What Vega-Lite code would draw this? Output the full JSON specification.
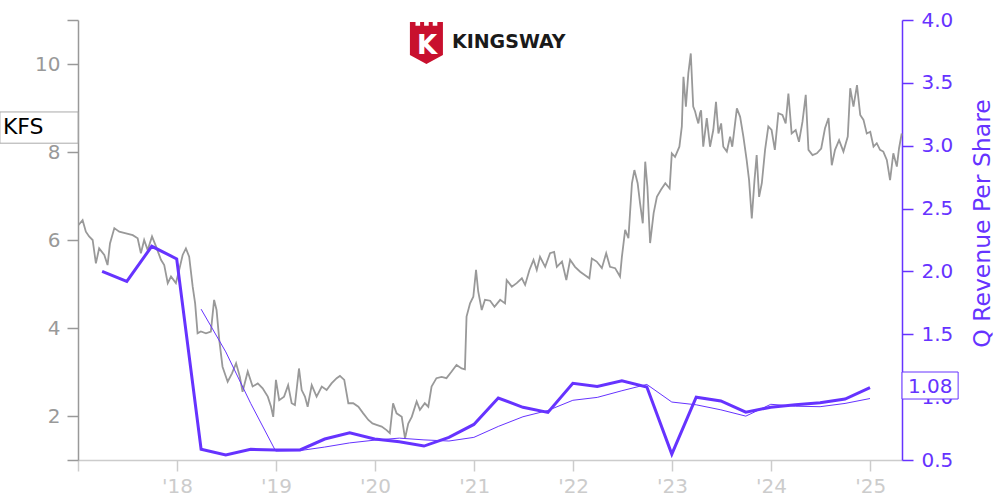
{
  "$schema": "https://vega.github.io/schema/vega-lite/v6.json",
  "width": 824,
  "height": 440,
  "autosize": {"type": "none"},
  "padding": {"left": 78, "top": 20, "right": 98, "bottom": 40},
  "background": "white",
  "config": {
    "font": "DejaVu Sans",
    "view": {"stroke": null},
    "axisLeft": {"domainColor": "#999999", "tickColor": "#999999", "labelColor": "#999999", "labelFontSize": 20, "tickSize": 11, "labelPadding": 7, "domainWidth": 1.5, "tickWidth": 1.5, "grid": false, "labelFont": "DejaVu Sans"},
    "axisRight": {"domainColor": "#6633ff", "tickColor": "#6633ff", "labelColor": "#6633ff", "titleColor": "#6633ff", "labelFontSize": 20, "titleFontSize": 23.5, "titleFontWeight": "normal", "tickSize": 11, "labelPadding": 8, "domainWidth": 1.5, "tickWidth": 1.5, "grid": false, "titleAngle": 270, "titleBaseline": "top", "titlePadding": 18, "labelFont": "DejaVu Sans", "titleFont": "DejaVu Sans"},
    "axisBottom": {"domainColor": "#cccccc", "tickColor": "#cccccc", "labelColor": "#cccccc", "labelFontSize": 20, "tickSize": 11, "labelPadding": 5, "domainWidth": 1.5, "tickWidth": 1.5, "grid": false, "labelFont": "DejaVu Sans"}
  },
  "datasets": {
    "price": [
      {"d":"2017-01-03","p":6.34},{"d":"2017-01-18","p":6.45},{"d":"2017-01-30","p":6.19},{"d":"2017-02-11","p":6.08},{"d":"2017-02-24","p":6.00},{"d":"2017-03-08","p":5.47},{"d":"2017-03-20","p":5.81},{"d":"2017-04-08","p":5.66},{"d":"2017-04-20","p":5.43},{"d":"2017-04-29","p":5.92},{"d":"2017-05-15","p":6.27},{"d":"2017-06-02","p":6.19},{"d":"2017-06-27","p":6.15},{"d":"2017-07-22","p":6.11},{"d":"2017-08-09","p":6.04},{"d":"2017-08-21","p":5.70},{"d":"2017-09-02","p":6.00},{"d":"2017-09-15","p":5.77},{"d":"2017-10-01","p":6.08},{"d":"2017-10-16","p":5.85},{"d":"2017-11-03","p":5.55},{"d":"2017-11-15","p":5.43},{"d":"2017-11-28","p":5.02},{"d":"2017-12-10","p":5.17},{"d":"2017-12-28","p":5.02},
      {"d":"2018-01-09","p":5.32},{"d":"2018-01-22","p":5.66},{"d":"2018-02-03","p":5.81},{"d":"2018-02-15","p":5.62},{"d":"2018-02-28","p":4.94},{"d":"2018-03-09","p":4.56},{"d":"2018-03-18","p":3.88},{"d":"2018-03-30","p":3.92},{"d":"2018-04-18","p":3.88},{"d":"2018-05-06","p":3.92},{"d":"2018-05-18","p":4.64},{"d":"2018-05-27","p":4.41},{"d":"2018-06-06","p":3.73},{"d":"2018-06-18","p":3.12},{"d":"2018-07-07","p":2.78},{"d":"2018-07-23","p":2.97},{"d":"2018-08-07","p":3.20},{"d":"2018-08-21","p":2.89},{"d":"2018-08-31","p":2.55},{"d":"2018-09-19","p":3.01},{"d":"2018-10-07","p":2.67},{"d":"2018-10-26","p":2.74},{"d":"2018-11-13","p":2.63},{"d":"2018-12-02","p":2.44},{"d":"2018-12-14","p":2.21},{"d":"2018-12-22","p":1.98},
      {"d":"2019-01-01","p":2.82},{"d":"2019-01-13","p":2.36},{"d":"2019-01-31","p":2.44},{"d":"2019-02-15","p":2.70},{"d":"2019-02-28","p":2.29},{"d":"2019-03-12","p":2.25},{"d":"2019-03-27","p":3.08},{"d":"2019-04-06","p":2.59},{"d":"2019-04-18","p":2.44},{"d":"2019-04-28","p":2.21},{"d":"2019-05-13","p":2.70},{"d":"2019-05-31","p":2.44},{"d":"2019-06-19","p":2.67},{"d":"2019-07-07","p":2.59},{"d":"2019-07-25","p":2.74},{"d":"2019-08-13","p":2.86},{"d":"2019-08-25","p":2.91},{"d":"2019-09-10","p":2.82},{"d":"2019-09-25","p":2.29},{"d":"2019-10-13","p":2.29},{"d":"2019-11-01","p":2.21},{"d":"2019-11-19","p":2.06},{"d":"2019-12-08","p":1.91},{"d":"2019-12-23","p":1.83},
      {"d":"2020-01-07","p":1.80},{"d":"2020-01-26","p":1.76},{"d":"2020-02-13","p":1.68},{"d":"2020-02-25","p":1.61},{"d":"2020-03-08","p":2.29},{"d":"2020-03-21","p":2.06},{"d":"2020-04-09","p":1.98},{"d":"2020-04-21","p":1.49},{"d":"2020-05-03","p":1.83},{"d":"2020-05-16","p":1.98},{"d":"2020-06-03","p":2.33},{"d":"2020-06-15","p":2.14},{"d":"2020-07-03","p":2.29},{"d":"2020-07-16","p":2.21},{"d":"2020-07-28","p":2.67},{"d":"2020-08-15","p":2.86},{"d":"2020-09-03","p":2.89},{"d":"2020-09-21","p":2.86},{"d":"2020-10-10","p":3.01},{"d":"2020-10-28","p":3.16},{"d":"2020-11-16","p":3.08},{"d":"2020-11-28","p":3.06},{"d":"2020-12-04","p":4.26},{"d":"2020-12-17","p":4.56},{"d":"2020-12-29","p":4.71},
      {"d":"2021-01-08","p":5.32},{"d":"2021-01-16","p":4.83},{"d":"2021-01-29","p":4.41},{"d":"2021-02-10","p":4.64},{"d":"2021-03-01","p":4.62},{"d":"2021-03-17","p":4.48},{"d":"2021-04-07","p":4.64},{"d":"2021-04-25","p":4.56},{"d":"2021-05-01","p":5.09},{"d":"2021-05-20","p":4.94},{"d":"2021-06-07","p":5.02},{"d":"2021-06-26","p":5.13},{"d":"2021-07-08","p":4.98},{"d":"2021-07-24","p":5.32},{"d":"2021-08-08","p":5.55},{"d":"2021-08-20","p":5.32},{"d":"2021-09-01","p":5.62},{"d":"2021-09-20","p":5.39},{"d":"2021-10-08","p":5.70},{"d":"2021-10-23","p":5.73},{"d":"2021-11-02","p":5.39},{"d":"2021-11-21","p":5.51},{"d":"2021-12-07","p":5.09},{"d":"2021-12-21","p":5.55},
      {"d":"2022-01-08","p":5.39},{"d":"2022-01-27","p":5.28},{"d":"2022-02-14","p":5.20},{"d":"2022-03-02","p":5.13},{"d":"2022-03-11","p":5.58},{"d":"2022-03-29","p":5.51},{"d":"2022-04-17","p":5.36},{"d":"2022-05-03","p":5.70},{"d":"2022-05-17","p":5.39},{"d":"2022-06-05","p":5.36},{"d":"2022-06-23","p":5.17},{"d":"2022-06-30","p":5.62},{"d":"2022-07-12","p":6.23},{"d":"2022-07-24","p":6.04},{"d":"2022-08-06","p":7.29},{"d":"2022-08-15","p":7.59},{"d":"2022-08-27","p":7.29},{"d":"2022-09-05","p":6.83},{"d":"2022-09-15","p":6.38},{"d":"2022-09-24","p":7.78},{"d":"2022-10-02","p":7.21},{"d":"2022-10-12","p":5.93},{"d":"2022-10-25","p":6.61},{"d":"2022-11-06","p":6.98},{"d":"2022-11-21","p":7.14},{"d":"2022-12-07","p":7.29},{"d":"2022-12-23","p":7.17},{"d":"2022-12-31","p":7.97},
      {"d":"2023-01-12","p":7.89},{"d":"2023-01-28","p":8.12},{"d":"2023-02-06","p":8.58},{"d":"2023-02-12","p":9.71},{"d":"2023-02-21","p":9.03},{"d":"2023-03-02","p":9.79},{"d":"2023-03-11","p":10.24},{"d":"2023-03-20","p":9.03},{"d":"2023-03-27","p":8.92},{"d":"2023-04-02","p":8.77},{"d":"2023-04-08","p":8.65},{"d":"2023-04-14","p":8.88},{"d":"2023-04-18","p":8.95},{"d":"2023-04-26","p":8.12},{"d":"2023-05-09","p":8.77},{"d":"2023-05-21","p":8.12},{"d":"2023-06-02","p":8.50},{"d":"2023-06-12","p":9.14},{"d":"2023-06-21","p":8.42},{"d":"2023-07-01","p":8.65},{"d":"2023-07-09","p":8.12},{"d":"2023-07-22","p":8.01},{"d":"2023-08-03","p":8.35},{"d":"2023-08-11","p":8.12},{"d":"2023-08-28","p":8.99},{"d":"2023-09-09","p":8.80},{"d":"2023-09-21","p":8.35},{"d":"2023-10-03","p":7.82},{"d":"2023-10-12","p":7.36},{"d":"2023-10-22","p":6.49},{"d":"2023-11-01","p":7.36},{"d":"2023-11-09","p":7.93},{"d":"2023-11-18","p":6.98},{"d":"2023-11-28","p":7.29},{"d":"2023-12-10","p":8.05},{"d":"2023-12-22","p":8.58},
      {"d":"2024-01-03","p":8.50},{"d":"2024-01-15","p":8.05},{"d":"2024-01-28","p":8.88},{"d":"2024-02-12","p":8.84},{"d":"2024-02-24","p":8.65},{"d":"2024-03-05","p":9.33},{"d":"2024-03-17","p":8.42},{"d":"2024-04-01","p":8.50},{"d":"2024-04-13","p":8.23},{"d":"2024-04-26","p":8.69},{"d":"2024-05-08","p":9.30},{"d":"2024-05-18","p":8.05},{"d":"2024-06-02","p":7.93},{"d":"2024-06-18","p":7.97},{"d":"2024-07-04","p":8.08},{"d":"2024-07-18","p":8.54},{"d":"2024-07-31","p":8.77},{"d":"2024-08-12","p":7.70},{"d":"2024-08-24","p":8.05},{"d":"2024-09-08","p":8.27},{"d":"2024-09-24","p":8.01},{"d":"2024-10-10","p":8.35},{"d":"2024-10-19","p":9.45},{"d":"2024-10-31","p":9.03},{"d":"2024-11-13","p":9.52},{"d":"2024-11-25","p":8.84},{"d":"2024-12-07","p":8.73},{"d":"2024-12-19","p":8.42},
      {"d":"2025-01-01","p":8.46},{"d":"2025-01-13","p":8.12},{"d":"2025-01-25","p":8.20},{"d":"2025-02-06","p":8.05},{"d":"2025-02-18","p":8.01},{"d":"2025-03-03","p":7.82},{"d":"2025-03-15","p":7.36},{"d":"2025-03-27","p":7.97},{"d":"2025-04-09","p":7.67},{"d":"2025-04-17","p":8.08},{"d":"2025-04-27","p":8.42}
    ],
    "revenue": [
      {"d":"2017-03-31","q":2.00},{"d":"2017-06-30","q":1.92},{"d":"2017-09-30","q":2.20},{"d":"2017-12-31","q":2.10},
      {"d":"2018-03-31","q":0.585,"ttm":1.70},{"d":"2018-06-30","q":0.54,"ttm":1.36},{"d":"2018-09-30","q":0.585,"ttm":0.95},{"d":"2018-12-31","q":0.58,"ttm":0.571},
      {"d":"2019-03-31","q":0.58,"ttm":0.575},{"d":"2019-06-30","q":0.667,"ttm":0.603},{"d":"2019-09-30","q":0.717,"ttm":0.636},{"d":"2019-12-31","q":0.667,"ttm":0.658},
      {"d":"2020-03-31","q":0.645,"ttm":0.674},{"d":"2020-06-30","q":0.611,"ttm":0.66},{"d":"2020-09-30","q":0.68,"ttm":0.651},{"d":"2020-12-31","q":0.783,"ttm":0.68},
      {"d":"2021-03-31","q":0.993,"ttm":0.767},{"d":"2021-06-30","q":0.919,"ttm":0.844},{"d":"2021-09-30","q":0.879,"ttm":0.894},{"d":"2021-12-31","q":1.11,"ttm":0.975},
      {"d":"2022-03-31","q":1.085,"ttm":0.998},{"d":"2022-06-30","q":1.13,"ttm":1.051},{"d":"2022-09-30","q":1.08,"ttm":1.101},{"d":"2022-12-31","q":0.547,"ttm":0.961},
      {"d":"2023-03-31","q":1.00,"ttm":0.939},{"d":"2023-06-30","q":0.97,"ttm":0.899},{"d":"2023-09-30","q":0.88,"ttm":0.849},{"d":"2023-12-31","q":0.92,"ttm":0.943},
      {"d":"2024-03-31","q":0.94,"ttm":0.928},{"d":"2024-06-30","q":0.955,"ttm":0.924},{"d":"2024-09-30","q":0.985,"ttm":0.95},{"d":"2024-12-31","q":1.075,"ttm":0.989}
    ],
    "tickerLabel": [{"label": "KFS", "p": 8.57}],
    "lastLabel": [{"label": "1.08", "q": 1.08}]
  },
  "layer": [
    {
      "layer": [
        {
          "data": {"name": "price"},
          "mark": {"type": "line", "color": "#999999", "strokeWidth": 1.8},
          "encoding": {
            "x": {"field": "d", "type": "temporal", "title": null,
              "scale": {"type": "utc", "domain": [{"year": 2017, "month": 1, "date": 1, "utc": true}, {"year": 2025, "month": 4, "date": 28, "utc": true}]},
              "axis": {"orient": "bottom", "title": null,
                "values": [{"year": 2017, "month": 1, "date": 1, "utc": true}, {"year": 2018, "month": 1, "date": 1, "utc": true}, {"year": 2019, "month": 1, "date": 1, "utc": true}, {"year": 2020, "month": 1, "date": 1, "utc": true}, {"year": 2021, "month": 1, "date": 1, "utc": true}, {"year": 2022, "month": 1, "date": 1, "utc": true}, {"year": 2023, "month": 1, "date": 1, "utc": true}, {"year": 2024, "month": 1, "date": 1, "utc": true}, {"year": 2025, "month": 1, "date": 1, "utc": true}],
                "labelExpr": "utcyear(datum.value) == 2017 ? '' : \"'\" + utcFormat(datum.value, '%y')"}},
            "y": {"field": "p", "type": "quantitative", "title": null,
              "scale": {"domain": [1, 11], "nice": false, "zero": false},
              "axis": {"orient": "left", "title": null, "values": [1, 2, 4, 6, 8, 10, 11],
                "labelExpr": "datum.value == 1 || datum.value == 11 ? '' : datum.label"}}
          }
        },
        {
          "data": {"name": "tickerLabel"},
          "mark": {"type": "rect", "fill": "white", "stroke": "#aaaaaa", "strokeWidth": 1},
          "encoding": {
            "x": {"datum": {"year": 2016, "month": 3, "date": 19, "utc": true}, "type": "temporal", "scale": {"type": "utc"}},
            "x2": {"datum": {"year": 2017, "month": 1, "date": 1, "utc": true}},
            "y": {"datum": 8.2, "type": "quantitative"},
            "y2": {"datum": 8.91}
          }
        },
        {
          "data": {"name": "tickerLabel"},
          "mark": {"type": "text", "align": "left", "baseline": "middle", "fontSize": 22, "color": "black", "font": "DejaVu Sans"},
          "encoding": {
            "x": {"datum": {"year": 2016, "month": 3, "date": 30, "utc": true}, "type": "temporal", "scale": {"type": "utc"}},
            "y": {"field": "p", "type": "quantitative"},
            "text": {"field": "label"}
          }
        },
        {
          "data": {"values": [{"logo": "Kingsway"}]},
          "mark": {"type": "point", "shape": "M -0.786 -1 L -0.52 -1 L -0.52 -0.82 L -0.3 -0.82 L -0.3 -1 L -0.11 -1 L -0.11 -0.82 L 0.11 -0.82 L 0.11 -1 L 0.3 -1 L 0.3 -0.82 L 0.52 -0.82 L 0.52 -1 L 0.786 -1 L 0.786 0.58 L 0 1 L -0.786 0.58 Z", "size": 1764, "filled": true, "fill": "#c8102e", "stroke": null, "opacity": 1},
          "encoding": {
            "x": {"datum": {"year": 2020, "month": 7, "date": 9, "utc": true}, "type": "temporal", "scale": {"type": "utc"}},
            "y": {"datum": 10.48, "type": "quantitative"}
          }
        },
        {
          "data": {"values": [{"logo": "K"}]},
          "mark": {"type": "text", "align": "center", "baseline": "middle", "fontSize": 26, "fontWeight": "bold", "color": "white", "font": "DejaVu Sans"},
          "encoding": {
            "x": {"datum": {"year": 2020, "month": 7, "date": 11, "utc": true}, "type": "temporal", "scale": {"type": "utc"}},
            "y": {"datum": 10.42, "type": "quantitative"},
            "text": {"field": "logo"}
          }
        },
        {
          "data": {"values": [{"logo": "KINGSWAY"}]},
          "mark": {"type": "text", "align": "left", "baseline": "middle", "fontSize": 19, "fontWeight": "bold", "color": "#1a1a1a", "font": "DejaVu Sans"},
          "encoding": {
            "x": {"datum": {"year": 2020, "month": 10, "date": 11, "utc": true}, "type": "temporal", "scale": {"type": "utc"}},
            "y": {"datum": 10.5, "type": "quantitative"},
            "text": {"field": "logo"}
          }
        }
      ]
    },
    {
      "layer": [
        {
          "data": {"name": "revenue"},
          "mark": {"type": "line", "color": "#6633ff", "strokeWidth": 1},
          "encoding": {
            "x": {"field": "d", "type": "temporal", "title": null, "scale": {"type": "utc"}},
            "y": {"field": "ttm", "type": "quantitative", "title": "Q Revenue Per Share",
              "scale": {"domain": [0.5, 4.0], "nice": false, "zero": false},
              "axis": {"orient": "right", "title": "Q Revenue Per Share", "values": [0.5, 1, 1.5, 2, 2.5, 3, 3.5, 4], "format": ".1f", "titleY": 203}}
          }
        },
        {
          "data": {"name": "revenue"},
          "mark": {"type": "line", "color": "#6633ff", "strokeWidth": 3},
          "encoding": {
            "x": {"field": "d", "type": "temporal", "title": null, "scale": {"type": "utc"}},
            "y": {"field": "q", "type": "quantitative", "title": "Q Revenue Per Share"}
          }
        },
        {
          "data": {"name": "lastLabel"},
          "mark": {"type": "rect", "fill": "white", "stroke": "#6633ff", "strokeWidth": 1},
          "encoding": {
            "x": {"datum": {"year": 2025, "month": 4, "date": 28, "utc": true}, "type": "temporal", "scale": {"type": "utc"}},
            "x2": {"datum": {"year": 2025, "month": 11, "date": 21, "utc": true}},
            "y": {"datum": 0.985, "type": "quantitative"},
            "y2": {"datum": 1.2}
          }
        },
        {
          "data": {"name": "lastLabel"},
          "mark": {"type": "text", "align": "center", "baseline": "middle", "fontSize": 20, "color": "#6633ff", "font": "DejaVu Sans"},
          "encoding": {
            "x": {"datum": {"year": 2025, "month": 8, "date": 10, "utc": true}, "type": "temporal", "scale": {"type": "utc"}},
            "y": {"field": "q", "type": "quantitative"},
            "text": {"field": "label"}
          }
        }
      ]
    }
  ],
  "resolve": {"scale": {"y": "independent"}, "axis": {"y": "independent"}}
}
